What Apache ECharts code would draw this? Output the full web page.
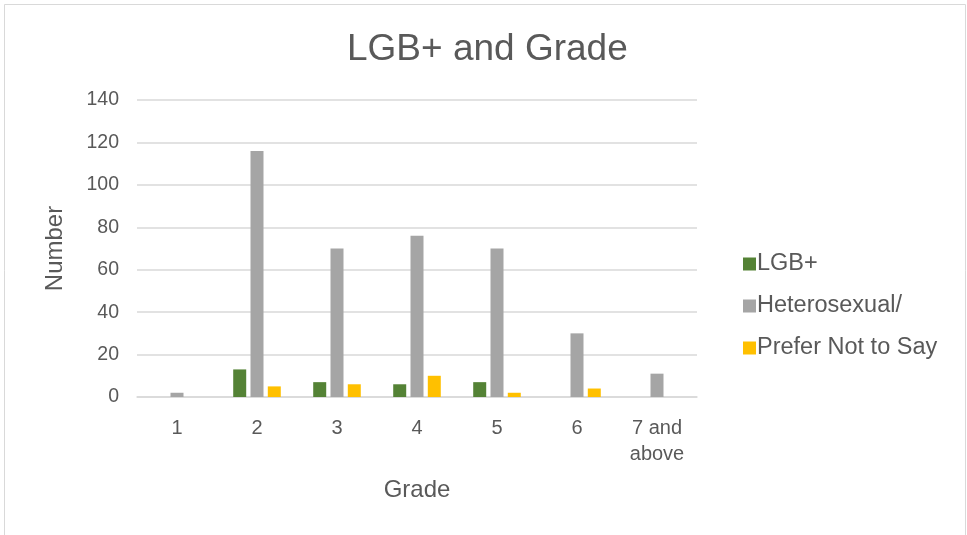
<!DOCTYPE html>
<html>
<head>
<meta charset="utf-8">
<script src="https://cdn.jsdelivr.net/npm/echarts@6/dist/echarts.min.js"></script>
<style>
  html, body { margin: 0; padding: 0; background: #ffffff; }
  #chart { width: 967px; height: 535px; }
</style>
</head>
<body>
<div id="chart"></div>
<script>
// Grades and the number of respondents in each group
const grades = ['1', '2', '3', '4', '5', '6', '7 and\nabove'];
const lgbValues = [0, 13, 7, 6, 7, 0, 0];
const heteroValues = [2, 116, 70, 76, 70, 30, 11];
const preferNotValues = [0, 5, 6, 10, 2, 4, 0];
const yTicks = { min: 0, max: 140, interval: 20 };

const textColor = '#595959';
const fontFamily = '"Liberation Sans", Arial, sans-serif';

const chart = echarts.init(document.getElementById('chart'), null, { renderer: 'canvas' });

chart.setOption({
  backgroundColor: '#ffffff',
  animation: false,
  textStyle: { fontFamily: fontFamily, color: textColor },
  graphic: [{
    type: 'rect',
    shape: { x: 4.5, y: 4.5, width: 961, height: 540 },
    style: { fill: 'none', stroke: '#d9d9d9', lineWidth: 1 },
    silent: true
  }],
  title: {
    text: 'LGB+ and Grade',
    left: 342,
    top: 26,
    textStyle: { fontFamily: fontFamily, fontSize: 37, fontWeight: 'normal', color: textColor }
  },
  legend: {
    orient: 'vertical',
    left: 738,
    top: 247,
    itemWidth: 13,
    itemHeight: 13,
    itemGap: 18,
    icon: 'rect',
    textStyle: { fontFamily: fontFamily, fontSize: 23.5, color: textColor, padding: [0, 0, 0, -4] },
    data: ['LGB+', 'Heterosexual/', 'Prefer Not to Say']
  },
  grid: { left: 137, right: 270, top: 100, bottom: 138, containLabel: false },
  xAxis: {
    type: 'category',
    data: grades,
    name: 'Grade',
    nameLocation: 'middle',
    nameGap: 81,
    nameTextStyle: { fontFamily: fontFamily, fontSize: 24, color: textColor },
    axisLine: { lineStyle: { color: '#d9d9d9', width: 1.5 } },
    axisTick: { show: false },
    axisLabel: { fontFamily: fontFamily, fontSize: 20, color: textColor, margin: 18, lineHeight: 26, interval: 0 }
  },
  yAxis: {
    type: 'value',
    min: yTicks.min,
    max: yTicks.max,
    interval: yTicks.interval,
    name: 'Number',
    nameLocation: 'middle',
    nameGap: 70,
    nameTextStyle: { fontFamily: fontFamily, fontSize: 24, color: textColor },
    axisLine: { show: false },
    axisTick: { show: false },
    axisLabel: { fontFamily: fontFamily, fontSize: 19.5, color: textColor, margin: 18 },
    splitLine: { lineStyle: { color: '#d9d9d9', width: 1.5 } }
  },
  series: [
    { name: 'LGB+', type: 'bar', data: lgbValues, barWidth: 13, barGap: '33%', itemStyle: { color: '#548235' } },
    { name: 'Heterosexual/', type: 'bar', data: heteroValues, barWidth: 13, barGap: '33%', itemStyle: { color: '#a5a5a5' } },
    { name: 'Prefer Not to Say', type: 'bar', data: preferNotValues, barWidth: 13, barGap: '33%', itemStyle: { color: '#ffc000' } }
  ]
});
</script>
</body>
</html>
